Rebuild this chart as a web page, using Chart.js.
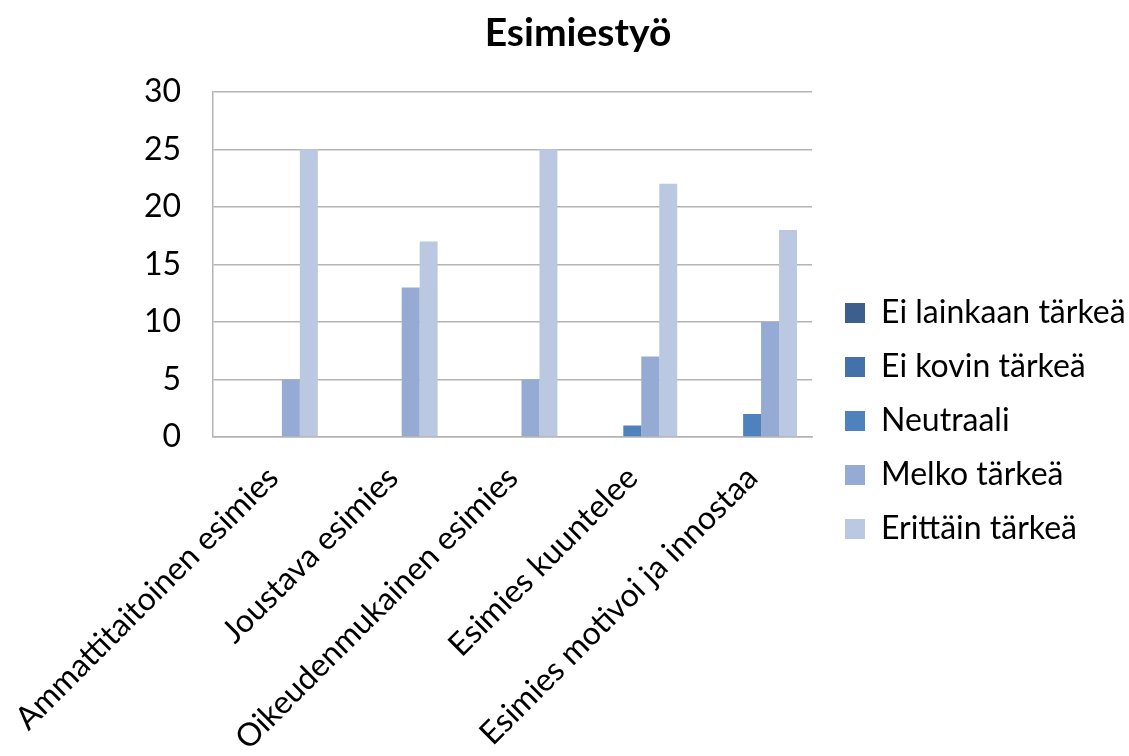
<!DOCTYPE html>
<html lang="fi">
<head>
<meta charset="utf-8">
<title>Esimiestyö</title>
<script src="https://cdn.jsdelivr.net/npm/chart.js@4/dist/chart.umd.min.js"></script>
<style>
    html, body { margin: 0; padding: 0; background: #fff; overflow: hidden; }
    #wrap { width: 1129px; height: 756px; position: relative; }
</style>
</head>
<body>
<div id="wrap"><canvas id="chart"></canvas></div>
<script>
// Survey answers per statement
const categories = [
    'Ammattitaitoinen esimies',
    'Joustava esimies',
    'Oikeudenmukainen esimies',
    'Esimies kuuntelee',
    'Esimies motivoi ja innostaa',
];
const seriesNames = ['Ei lainkaan tärkeä', 'Ei kovin tärkeä', 'Neutraali', 'Melko tärkeä', 'Erittäin tärkeä'];
const eiLainkaan = [0, 0, 0, 0, 0];
const eiKovin = [0, 0, 0, 0, 0];
const neutraali = [0, 0, 0, 1, 2];
const melko = [5, 13, 5, 7, 10];
const erittain = [25, 17, 25, 22, 18];
const yTicks = [0, 5, 10, 15, 20, 25, 30];

const COLORS = ['#3c5f8e', '#4571aa', '#4f81bd', '#95abd3', '#bac8e2'];
const GRID = '#b4b4b4';
const FONT = 'Lato, "Open Sans", sans-serif';

// plot edges in px
const PLOT_LEFT = 213;
const PLOT_BOTTOM = 437;
const PAD_LEFT = 110;
const PAD_RIGHT = 83;

const values = [eiLainkaan, eiKovin, neutraali, melko, erittain];
const datasets = seriesNames.map((name, i) => ({
    label: name,
    data: values[i],
    backgroundColor: COLORS[i],
    borderWidth: 0,
    categoryPercentage: 0.75,
    barPercentage: 1.0,
}));

// legend width is capped by the layout, so move it next to the plot
// and let it run to the canvas edge
const legendShift = {
    id: 'legendShift',
    afterLayout(chart) {
        const lg = chart.legend;
        if (!lg) return;
        lg.left = chart.chartArea.right + 11;
        lg.right = chart.width;
        lg.top += 43;
        lg.bottom += 43;
    },
};

function draw() {
    Chart.defaults.font.family = FONT;
    Chart.defaults.color = '#000';

    new Chart(document.getElementById('chart'), {
        type: 'bar',
        data: { labels: categories, datasets },
        options: {
            responsive: true,
            maintainAspectRatio: false,
            animation: false,
            layout: { padding: { left: PAD_LEFT, right: PAD_RIGHT, top: 0, bottom: 0 } },
            plugins: {
                title: {
                    display: true,
                    text: 'Esimiestyö',
                    font: { size: 39, weight: 'bold' },
                    padding: { top: 10, bottom: 35 },
                },
                legend: {
                    position: 'right',
                    labels: {
                        boxWidth: 20,
                        boxHeight: 20,
                        padding: 22,
                        font: { size: 32 },
                    },
                },
                tooltip: { enabled: false },
            },
            scales: {
                x: {
                    grid: { display: false },
                    border: { display: true, color: GRID, width: 1.5 },
                    ticks: {
                        autoSkip: false,
                        minRotation: 45,
                        maxRotation: 45,
                        padding: 14,
                        font: { size: 32 },
                    },
                    afterFit(scale) {
                        scale.height = 756 - PLOT_BOTTOM;
                        scale.paddingLeft = 0;
                        scale.paddingRight = 0;
                    },
                },
                y: {
                    min: 0,
                    max: 30,
                    afterBuildTicks(scale) { scale.ticks = yTicks.map(v => ({ value: v })); },
                    grid: { color: GRID, lineWidth: 1.5, drawTicks: false },
                    border: { display: true, color: GRID, width: 1.5 },
                    ticks: { padding: 32, font: { size: 32 } },
                    afterFit(scale) { scale.width = PLOT_LEFT - PAD_LEFT; },
                },
            },
        },
        plugins: [legendShift],
    });
}

// make sure Lato is ready before the legend measures its labels
Promise.all([
    document.fonts.load('32px Lato'),
    document.fonts.load('bold 39px Lato'),
]).then(draw, draw);
</script>
</body>
</html>
